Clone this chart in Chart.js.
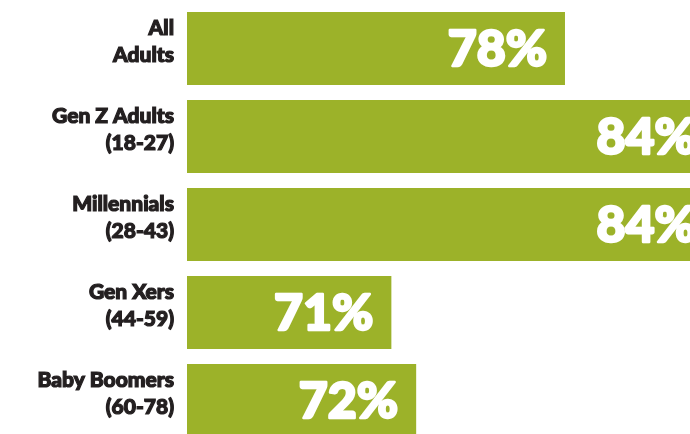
<!DOCTYPE html>
<html>
<head>
<meta charset="utf-8">
<script src="https://cdn.jsdelivr.net/npm/chart.js@4"></script>
<style>
  html, body { margin: 0; padding: 0; background: #fff; overflow: hidden; }
  #wrap { position: absolute; left: 0; top: 0; }
</style>
</head>
<body>
<div id="wrap"><canvas id="genChart" width="720" height="450"></canvas></div>
<script>
const groups = [
  ['All', 'Adults'],
  ['Gen Z Adults', '(18-27)'],
  ['Millennials', '(28-43)'],
  ['Gen Xers', '(44-59)'],
  ['Baby Boomers', '(60-78)']
];
const shares = [78, 84, 84, 71, 72];

const barGreen = '#9cb229';
const labelInk = '#231f20';
const heavyFont = 'Lato, "Liberation Sans", Arial, sans-serif';

// white percentage written inside the right end of each bar
const valueLabels = {
  id: 'valueLabels',
  afterDatasetsDraw(chart) {
    const ctx = chart.ctx;
    const meta = chart.getDatasetMeta(0);
    ctx.save();
    ctx.fillStyle = '#ffffff';
    ctx.strokeStyle = '#ffffff';
    ctx.lineWidth = 2.5;
    ctx.lineJoin = 'round';
    ctx.font = '900 50px ' + heavyFont;
    ctx.textAlign = 'right';
    ctx.textBaseline = 'middle';
    meta.data.forEach((bar, i) => {
      const x = bar.x - 18;
      const y = bar.y + 1;
      ctx.strokeText(shares[i] + '%', x, y);
      ctx.fillText(shares[i] + '%', x, y);
    });
    ctx.restore();
  }
};

new Chart(document.getElementById('genChart'), {
  type: 'bar',
  data: {
    labels: groups,
    datasets: [{
      data: shares,
      backgroundColor: barGreen,
      borderWidth: 0,
      barPercentage: 0.83,
      categoryPercentage: 1
    }]
  },
  options: {
    indexAxis: 'y',
    responsive: false,
    animation: false,
    layout: { padding: { top: 4.5, bottom: 5.5, left: 0, right: 0 } },
    plugins: {
      legend: { display: false },
      tooltip: { enabled: false }
    },
    scales: {
      x: {
        display: false,
        min: 62.76,
        max: 84.25
      },
      y: {
        grid: { display: false, drawTicks: false },
        border: { display: false },
        afterFit(scale) {
          // fixed gutter for the labels, no extra room above/below the bars
          scale.width = 187;
          scale.paddingTop = 0;
          scale.paddingBottom = 0;
        },
        ticks: {
          color: labelInk,
          textStrokeColor: labelInk,
          textStrokeWidth: 1.2,
          padding: 13,
          labelOffset: -7,
          font: { family: heavyFont, weight: '900', size: 21, lineHeight: 1.3 }
        }
      }
    }
  },
  plugins: [valueLabels]
});
</script>
</body>
</html>
